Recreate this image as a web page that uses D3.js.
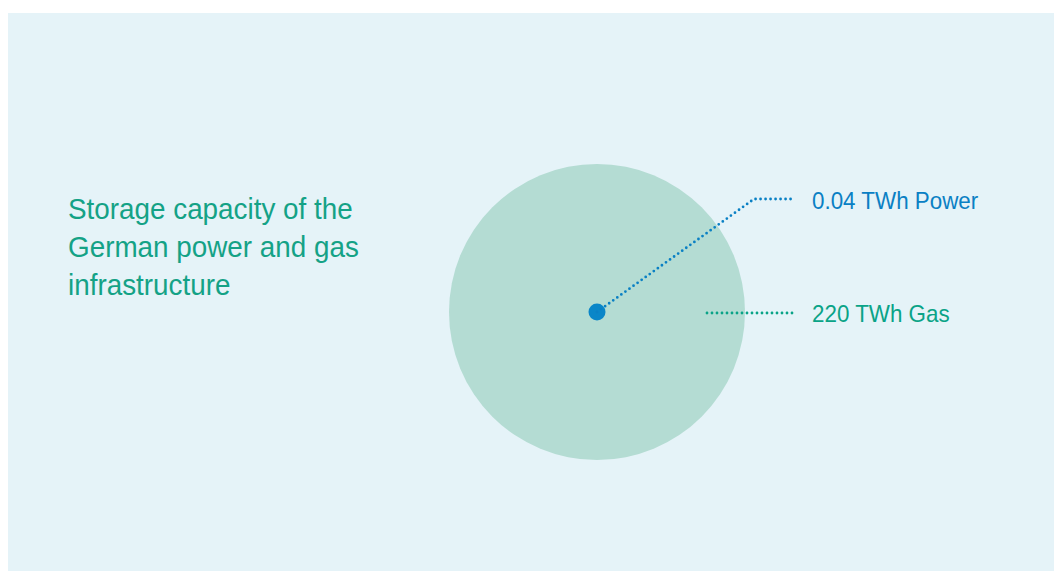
<!DOCTYPE html>
<html>
<head>
<meta charset="utf-8">
<script src="https://cdn.jsdelivr.net/npm/d3@7/dist/d3.min.js"></script>
<style>
  html, body { margin: 0; padding: 0; background: #ffffff; }
  svg { display: block; }
  text { font-family: "Liberation Sans Narrow", "Arial Narrow", "Liberation Sans", sans-serif; }
</style>
</head>
<body>
<svg id="chart" width="1054" height="572"></svg>
<script>
// Storage capacities (TWh)
const categories = ["Power", "Gas"];
const values = [0.04, 220];
const labels = ["0.04 TWh Power", "220 TWh Gas"];
const titleLines = ["Storage capacity of the", "German power and gas", "infrastructure"];

const W = 1054, H = 572;
const svg = d3.select("#chart");

const colors = { Power: "#0a80c4", Gas: "#0aa387" };
const fills = { Power: "#0a86c8", Gas: "#b4dcd3" };

// background panel
svg.append("rect")
  .attr("x", 8).attr("y", 13)
  .attr("width", W - 8).attr("height", 558)
  .attr("fill", "#e5f3f8");

// title, set slightly condensed
const title = svg.append("text")
  .attr("transform", "translate(68,219) scale(0.944,1)")
  .attr("fill", "#14a286")
  .attr("font-size", 29.5);
titleLines.forEach((t, i) => {
  title.append("tspan").attr("x", 0).attr("dy", i === 0 ? 0 : 38).text(t);
});

// area-proportional radius
const cx = 597, cy = 312;
const r = d3.scaleSqrt().domain([0, d3.max(values)]).range([0, 148]);
const minR = 8.5;

const data = categories.map((c, i) => ({ cat: c, value: values[i], label: labels[i] }));

// circles, largest first
svg.selectAll("circle.cap")
  .data(data.slice().sort((a, b) => b.value - a.value))
  .join("circle")
  .attr("class", "cap")
  .attr("cx", cx).attr("cy", cy)
  .attr("r", d => Math.max(r(d.value), minR))
  .attr("fill", d => fills[d.cat]);

// leader lines
const line = d3.line();
const leaders = {
  Power: [[cx, cy], [754, 199], [795, 199]],
  Gas: [[707, 313], [795, 313]]
};
svg.selectAll("path.leader")
  .data(data)
  .join("path")
  .attr("class", "leader")
  .attr("d", d => line(leaders[d.cat]))
  .attr("fill", "none")
  .attr("stroke", d => colors[d.cat])
  .attr("stroke-width", 2.8)
  .attr("stroke-linecap", "round")
  .attr("stroke-dasharray", "0 5");

// labels
const labelY = { Power: 209, Gas: 322 };
svg.selectAll("text.lab")
  .data(data)
  .join("text")
  .attr("class", "lab")
  .attr("transform", d => `translate(812,${labelY[d.cat]}) scale(0.933,1)`)
  .attr("fill", d => colors[d.cat])
  .attr("font-size", 24)
  .text(d => d.label);
</script>
</body>
</html>
